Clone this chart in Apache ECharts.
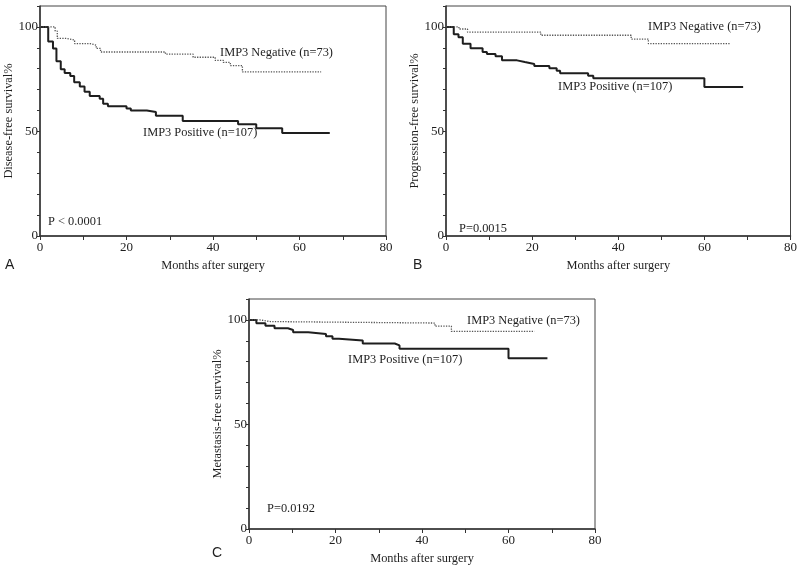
<!DOCTYPE html>
<html><head><meta charset="utf-8">
<script src="https://cdn.jsdelivr.net/npm/echarts@6/dist/echarts.min.js"></script>
<style>html,body{margin:0;padding:0;background:#fff}#c{width:800px;height:571px}</style>
</head><body><div id="c"></div>
<script>
// Panel A: Disease-free survival
var aPosT = [0, 1.9, 3.0, 3.8, 4.8, 5.7, 7.0, 7.9, 9.2, 10.3, 11.5, 13.8, 14.6, 15.7, 20.0, 21.0, 24.7, 26.8, 33.0, 45.8, 50.0, 56.0, 67.0];
var aPosS = [100, 93, 89.7, 83.6, 79.7, 78, 76.5, 73.5, 71.5, 69, 67, 65.7, 63.3, 62, 61, 60, 59.3, 57.5, 55, 53.5, 51.5, 49.3, 49.3];
var aNegT = [0, 3.5, 4.0, 6.2, 8.0, 11.6, 13.0, 14.0, 29.0, 35.4, 40.5, 42.4, 44.0, 46.8, 65.0];
var aNegS = [100, 98, 94.5, 93.7, 92, 91.3, 89.7, 88, 87, 85.5, 84, 83, 81.5, 78.5, 78.5];
// Panel B: Progression-free survival
var bPosT = [0, 1.8, 2.9, 3.9, 5.7, 8.5, 9.5, 11.5, 13.0, 16.5, 18.3, 20.5, 24.0, 25.7, 26.5, 33.0, 34.2, 60.0, 69.0];
var bPosS = [100, 96.5, 95, 92, 89.8, 88, 87, 86, 84, 83.2, 82.3, 81.3, 80.2, 79, 77.8, 76.7, 75.5, 71.3, 71.3];
var bNegT = [0, 3.0, 5.0, 22.0, 43.0, 47.0, 66.0];
var bNegS = [100, 99, 97.5, 96, 94.2, 92, 92];
// Panel C: Metastasis-free survival
var cPosT = [0, 1.7, 3.8, 5.9, 9.0, 10.2, 13.7, 17.8, 19.3, 20.8, 26.3, 33.7, 34.8, 60.0, 69.0];
var cPosS = [100, 98.4, 97.2, 96, 95.2, 94.1, 93.3, 92.2, 91, 90.1, 88.7, 87.8, 86.2, 81.7, 81.7];
var cNegT = [0, 2.5, 5.0, 43.0, 46.8, 66.0];
var cNegS = [100, 99.2, 98.5, 97, 94.5, 94.5];

var xTicks = [0, 20, 40, 60, 80];
var yTicks = [0, 50, 100];
var yNames = ['Disease-free survival%', 'Progression-free survival%', 'Metastasis-free survival%'];
var xName = 'Months after surgery';
var pTexts = ['P < 0.0001', 'P=0.0015', 'P=0.0192'];
var negLabel = 'IMP3 Negative (n=73)';
var posLabel = 'IMP3 Positive (n=107)';

function pairs(t, s) { return t.map(function (v, i) { return [v, s[i]]; }); }

var serif = 'Liberation Serif';
var txt = '#1e1e1e';
var fsz = 12.4;
var grids = [
  { left: 40, top: 6, width: 346, height: 230 },
  { left: 446, top: 6, width: 347, height: 230 },
  { left: 249, top: 299, width: 346, height: 230 }
];
var xAxes = [], yAxes = [], series = [];
var data = [[aPosT, aPosS, aNegT, aNegS], [bPosT, bPosS, bNegT, bNegS], [cPosT, cPosS, cNegT, cNegS]];
grids.forEach(function (g, i) {
  g.show = true; g.borderColor = '#444'; g.borderWidth = 1; g.backgroundColor = 'transparent';
  xAxes.push({
    gridIndex: i, type: 'value', min: 0, max: 80, interval: 10,
    name: xName, nameLocation: 'middle', nameGap: 24,
    nameTextStyle: { fontFamily: serif, fontSize: fsz, color: txt },
    axisLine: { show: true, lineStyle: { color: '#333', width: 1.5 } },
    axisTick: { show: true, inside: false, length: 4, lineStyle: { color: '#333' } },
    axisLabel: { fontFamily: serif, fontSize: 13, color: txt, margin: 5,
      formatter: function (v) { return xTicks.indexOf(v) >= 0 ? String(v) : ''; } },
    splitLine: { show: false }
  });
  yAxes.push({
    gridIndex: i, type: 'value', min: 0, max: 110, interval: 10,
    name: yNames[i], nameLocation: 'middle', nameGap: 20,
    nameTextStyle: { fontFamily: serif, fontSize: fsz, color: txt },
    axisLine: { show: true, lineStyle: { color: '#333', width: 1.5 } },
    axisTick: { show: true, inside: false, length: 3, lineStyle: { color: '#333' } },
    axisLabel: { fontFamily: serif, fontSize: 13, color: txt, margin: 2,
      formatter: function (v) { return yTicks.indexOf(v) >= 0 ? String(v) : ''; } },
    splitLine: { show: false }
  });
  var d = data[i];
  series.push({
    type: 'line', xAxisIndex: i, yAxisIndex: i, step: 'end', symbol: 'none',
    data: pairs(d[0], d[1]), lineStyle: { color: '#1e1e1e', width: 2 }, animation: false
  });
  series.push({
    type: 'line', xAxisIndex: i, yAxisIndex: i, step: 'end', symbol: 'none',
    data: pairs(d[2], d[3]), lineStyle: { color: '#555', width: 1.3, type: 'dotted' }, animation: false
  });
});

function T(x, y, text, opt) {
  opt = opt || {};
  return { type: 'text', left: x, top: y, style: { text: text, fontFamily: opt.ff || serif,
    fontSize: opt.fs || fsz, fill: txt, textVerticalAlign: 'middle' } };
}
var graphics = [
  T(220, 47, negLabel), T(143, 127, posLabel), T(48, 216, pTexts[0]),
  T(648, 21, negLabel), T(558, 81, posLabel), T(459, 223, pTexts[1]),
  T(467, 315, negLabel), T(348, 354, posLabel), T(267, 503, pTexts[2]),
  T(5, 258, 'A', { ff: 'Liberation Sans', fs: 14 }),
  T(413, 258, 'B', { ff: 'Liberation Sans', fs: 14 }),
  T(212, 546, 'C', { ff: 'Liberation Sans', fs: 14 })
];

var chart = echarts.init(document.getElementById('c'));
chart.setOption({
  animation: false,
  grid: grids, xAxis: xAxes, yAxis: yAxes, series: series, graphic: graphics
});
</script></body></html>
